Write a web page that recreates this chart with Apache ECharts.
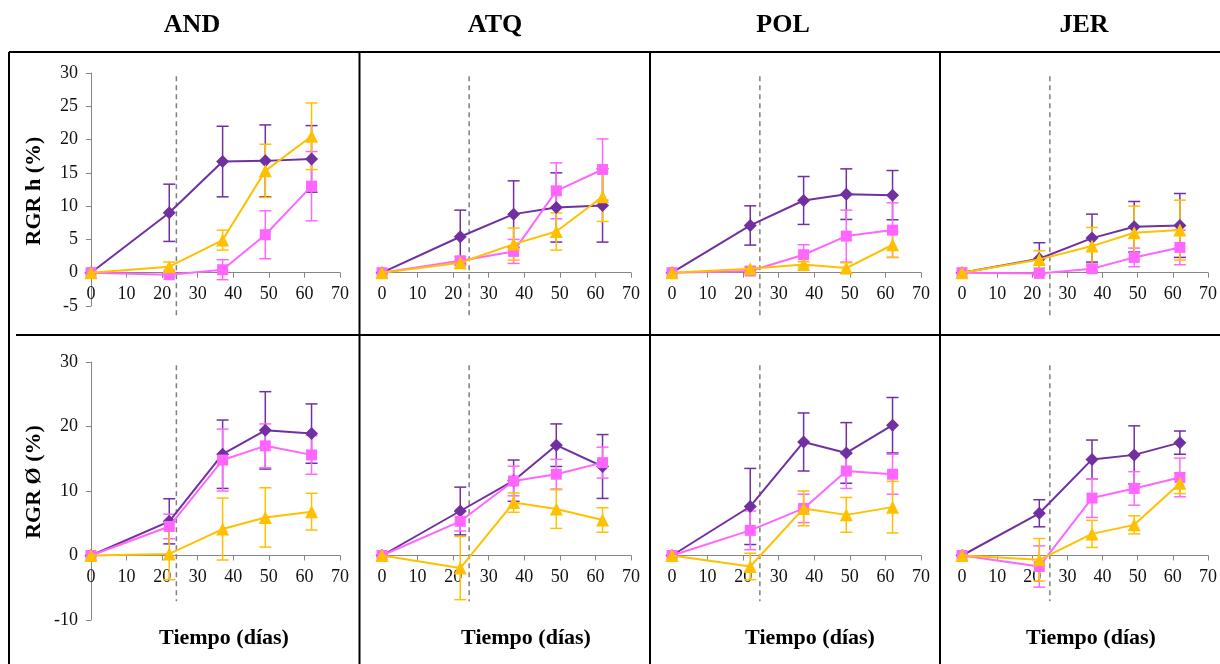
<!DOCTYPE html>
<html>
<head>
<meta charset="utf-8">
<script src="https://cdn.jsdelivr.net/npm/echarts@6/dist/echarts.min.js"></script>
<style>
  html, body { margin: 0; padding: 0; background: #fff; }
  #chart { width: 1220px; height: 664px; }
</style>
</head>
<body>
<div id="chart"></div>
<script>
// dias de muestreo
const days = [0, 22, 37, 49, 62];
const sites = ['AND', 'ATQ', 'POL', 'JER'];
// linea discontinua (dia) por parcela
const dashDay = [24, 24.5, 24.7, 25];

// RGR h (%) -- filas: AND, ATQ, POL, JER
const hPurple = [
  [0, 9.0, 16.7, 16.8, 17.1],
  [0, 5.4, 8.8, 9.8, 10.1],
  [0, 7.1, 10.85, 11.8, 11.65],
  [0, 2.1, 5.2, 6.9, 7.1]
];
const hPurpleErr = [
  [0, 4.3, 5.3, 5.4, 5.0],
  [0, 4.0, 5.0, 5.2, 5.5],
  [0, 2.95, 3.6, 3.8, 3.7],
  [0, 2.4, 3.6, 3.8, 4.8]
];
const hPink = [
  [0, -0.3, 0.45, 5.7, 13.0],
  [0, 1.8, 3.2, 12.3, 15.5],
  [0, 0.25, 2.7, 5.5, 6.4],
  [0, -0.1, 0.6, 2.3, 3.8]
];
const hPinkErr = [
  [0, 0.3, 1.5, 3.6, 5.2],
  [0, 0.6, 1.8, 4.2, 4.6],
  [0, 0.3, 1.5, 3.9, 4.1],
  [0, 0.2, 0.4, 1.4, 2.6]
];
const hYellow = [
  [0, 0.9, 4.9, 15.3, 20.5],
  [0, 1.5, 4.3, 6.2, 11.4],
  [0, 0.6, 1.25, 0.7, 4.2],
  [0, 2.0, 4.0, 6.0, 6.4]
];
const hYellowErr = [
  [0, 0.7, 1.5, 4.0, 5.0],
  [0, 0.4, 2.4, 2.8, 3.7],
  [0, 0.3, 0.4, 0.8, 1.9],
  [0, 1.3, 2.8, 4.0, 4.5]
];

// RGR Ø (%)
const dPurple = [
  [0, 5.3, 15.7, 19.4, 18.9],
  [0, 6.9, 11.6, 17.1, 13.8],
  [0, 7.6, 17.6, 15.9, 20.2],
  [0, 6.55, 14.9, 15.6, 17.5]
];
const dPurpleErr = [
  [0, 3.5, 5.3, 6.0, 4.6],
  [0, 3.7, 3.2, 3.3, 4.95],
  [0, 5.9, 4.5, 4.7, 4.3],
  [0, 2.1, 3.0, 4.5, 1.8]
];
const dPink = [
  [0, 4.5, 14.8, 17.0, 15.6],
  [0, 5.3, 11.55, 12.6, 14.4],
  [0, 3.9, 7.3, 13.1, 12.6],
  [0, -1.7, 8.9, 10.4, 12.1]
];
const dPinkErr = [
  [0, 1.9, 4.8, 3.4, 3.0],
  [0, 1.5, 2.3, 2.3, 2.4],
  [0, 3.0, 2.2, 2.7, 3.1],
  [0, 3.2, 3.0, 2.6, 3.0]
];
const dYellow = [
  [0, 0.25, 4.1, 5.9, 6.8],
  [0, -1.95, 8.2, 7.2, 5.5],
  [0, -1.7, 7.3, 6.3, 7.5],
  [0, -0.67, 3.35, 4.75, 11.2]
];
const dYellowErr = [
  [0, 4.0, 4.8, 4.6, 2.85],
  [0, 4.9, 1.5, 3.0, 1.9],
  [0, 2.05, 2.7, 2.7, 4.0],
  [0, 3.3, 2.1, 1.4, 1.6]
];

const serif = "'Liberation Serif', 'Times New Roman', serif";
const colors = ['#7030A0', '#FF66FF', '#FFC000'];
const symbols = ['diamond', 'rect', 'triangle'];
const symSizes = [13, 11, 13];
const colLeft = [91, 382, 672, 962];
const rows = [
  { top: 73, height: 233, min: -5, max: 30, interval: 5, dashTop: 29.5, dashBot: -6.4,
    sets: [[hPurple, hPurpleErr], [hPink, hPinkErr], [hYellow, hYellowErr]] },
  { top: 362, height: 258, min: -10, max: 30, interval: 10, dashTop: 29.5, dashBot: -7.1,
    sets: [[dPurple, dPurpleErr], [dPink, dPinkErr], [dYellow, dYellowErr]] }
];

const grid = [], xAxis = [], yAxis = [], series = [];

rows.forEach((row, r) => {
  // eje x cruzando en y = 0
  const zeroOffset = -row.height * (0 - row.min) / (row.max - row.min);
  sites.forEach((site, c) => {
    const idx = r * 4 + c;
    grid.push({ left: colLeft[c], top: row.top, width: 249, height: row.height });
    xAxis.push({
      gridIndex: idx, type: 'value', min: 0, max: 70, interval: 10,
      offset: zeroOffset,
      axisLine: { onZero: false, lineStyle: { color: '#868686', width: 1 } },
      axisTick: { show: true, length: 5, lineStyle: { color: '#868686' } },
      axisLabel: { fontFamily: serif, fontSize: 18, color: '#111', margin: 13 },
      splitLine: { show: false }
    });
    yAxis.push({
      gridIndex: idx, type: 'value', min: row.min, max: row.max, interval: row.interval,
      axisLine: { show: c === 0, lineStyle: { color: '#868686', width: 1 } },
      axisTick: { show: c === 0, length: 5, lineStyle: { color: '#868686' } },
      axisLabel: { show: c === 0, fontFamily: serif, fontSize: 18, color: '#111', margin: 13 },
      splitLine: { show: false }
    });

    // linea discontinua vertical
    series.push({
      type: 'custom', xAxisIndex: idx, yAxisIndex: idx, silent: true, z: 1,
      data: [[dashDay[c], row.dashTop, row.dashBot]],
      renderItem: function (params, api) {
        const p1 = api.coord([api.value(0), api.value(1)]);
        const p2 = api.coord([api.value(0), api.value(2)]);
        return {
          type: 'line',
          shape: { x1: p1[0], y1: p1[1], x2: p2[0], y2: p2[1] },
          style: { stroke: '#7f7f7f', lineWidth: 1.5, lineDash: [5, 4] }
        };
      }
    });

    row.sets.forEach((set, s) => {
      const vals = set[0][c], errs = set[1][c];
      // barras de error
      series.push({
        type: 'custom', xAxisIndex: idx, yAxisIndex: idx, silent: true, z: 2 + s,
        data: days.map((d, i) => [d, vals[i], errs[i]]),
        encode: { x: 0, y: 1 },
        renderItem: function (params, api) {
          const e = api.value(2);
          if (!e) return null;
          const x = api.value(0), v = api.value(1);
          const top = api.coord([x, v + e]);
          const bot = api.coord([x, v - e]);
          const st = { stroke: colors[s], lineWidth: 1.5 };
          return {
            type: 'group',
            children: [
              { type: 'line', shape: { x1: top[0], y1: top[1], x2: bot[0], y2: bot[1] }, style: st },
              { type: 'line', shape: { x1: top[0] - 6, y1: top[1], x2: top[0] + 6, y2: top[1] }, style: st },
              { type: 'line', shape: { x1: bot[0] - 6, y1: bot[1], x2: bot[0] + 6, y2: bot[1] }, style: st }
            ]
          };
        }
      });
      series.push({
        type: 'line', xAxisIndex: idx, yAxisIndex: idx, z: 5 + s,
        data: days.map((d, i) => [d, vals[i]]),
        symbol: symbols[s], symbolSize: symSizes[s], showAllSymbol: true,
        lineStyle: { color: colors[s], width: 2 },
        itemStyle: { color: colors[s] },
        animation: false
      });
    });
  });
});

const lineStyle = { stroke: '#000', lineWidth: 2 };
const graphic = [
  { type: 'line', shape: { x1: 9, y1: 52, x2: 1220, y2: 52 }, style: lineStyle },
  { type: 'line', shape: { x1: 9, y1: 52, x2: 9, y2: 664 }, style: lineStyle },
  { type: 'line', shape: { x1: 16, y1: 335, x2: 1220, y2: 335 }, style: lineStyle },
  { type: 'line', shape: { x1: 359.5, y1: 52, x2: 359.5, y2: 664 }, style: lineStyle },
  { type: 'line', shape: { x1: 650, y1: 52, x2: 650, y2: 664 }, style: lineStyle },
  { type: 'line', shape: { x1: 940, y1: 52, x2: 940, y2: 664 }, style: lineStyle }
];
const headX = [192, 495, 783, 1084];
sites.forEach((s, i) => {
  graphic.push({
    type: 'text', x: headX[i], y: 25,
    style: { text: s, font: 'bold 26px ' + serif, fill: '#000', align: 'center', verticalAlign: 'middle' }
  });
});
const tiempoX = [224, 526, 810, 1091];
tiempoX.forEach(x => {
  graphic.push({
    type: 'text', x: x, y: 638,
    style: { text: 'Tiempo (días)', font: 'bold 22px ' + serif, fill: '#000', align: 'center', verticalAlign: 'middle' }
  });
});
graphic.push({
  type: 'text', x: 34, y: 191, rotation: Math.PI / 2,
  style: { text: 'RGR h (%)', font: 'bold 22px ' + serif, fill: '#000', align: 'center', verticalAlign: 'middle' }
});
graphic.push({
  type: 'text', x: 34, y: 482, rotation: Math.PI / 2,
  style: { text: 'RGR Ø (%)', font: 'bold 22px ' + serif, fill: '#000', align: 'center', verticalAlign: 'middle' }
});

const chart = echarts.init(document.getElementById('chart'));
chart.setOption({
  animation: false,
  backgroundColor: '#fff',
  grid: grid,
  xAxis: xAxis,
  yAxis: yAxis,
  series: series,
  graphic: graphic
});
</script>
</body>
</html>
